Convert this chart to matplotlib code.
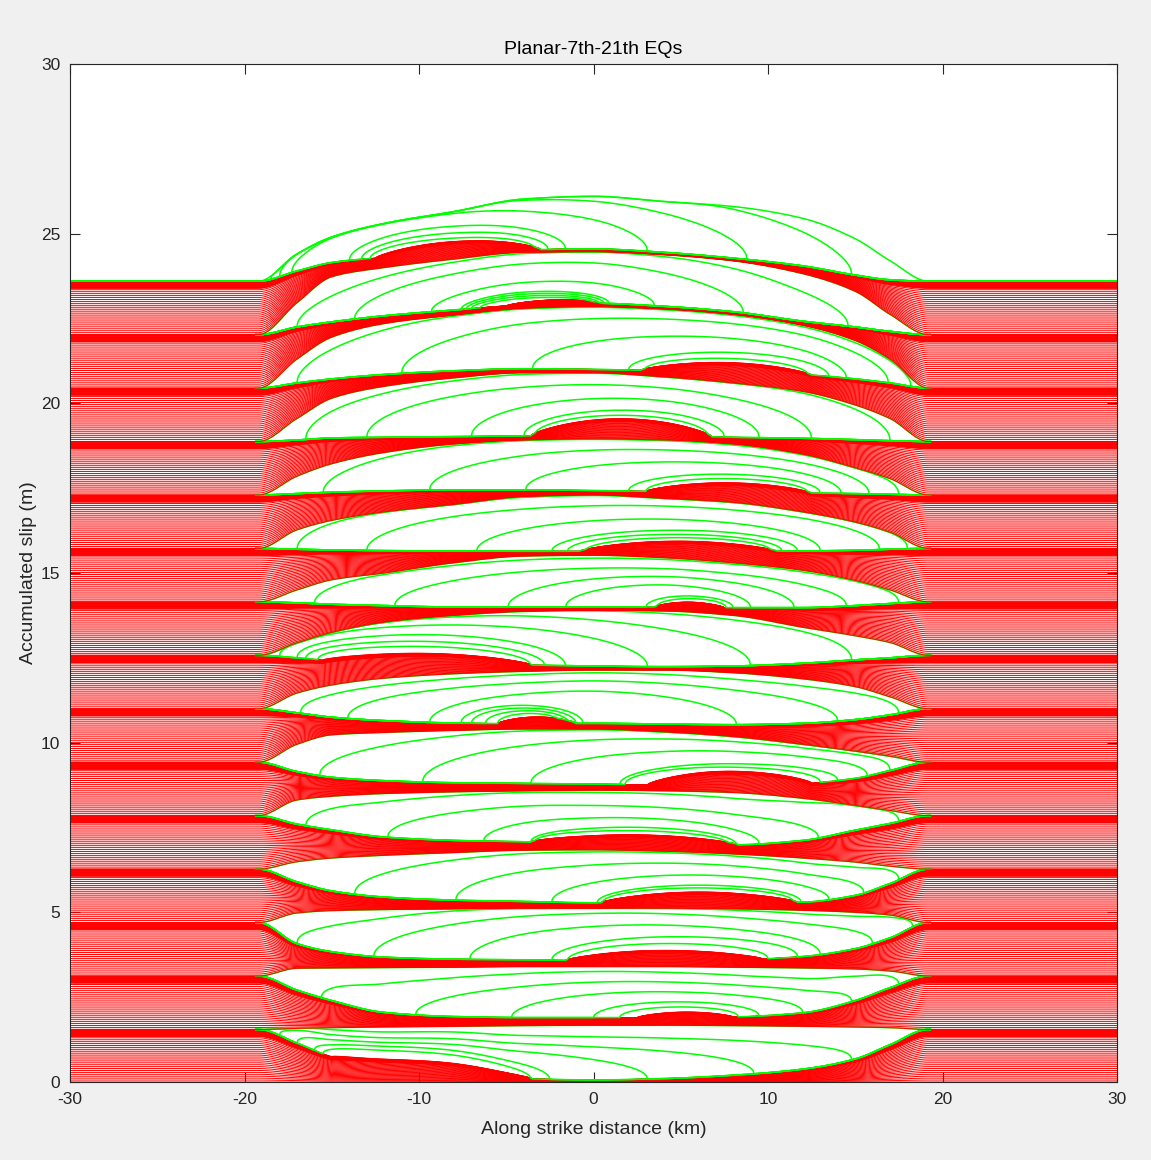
import numpy as np
import matplotlib
matplotlib.use("Agg")
import matplotlib.pyplot as plt
from matplotlib.collections import LineCollection

plt.rcParams['font.family'] = ['Liberation Sans', 'DejaVu Sans']
plt.rcParams['axes.unicode_minus'] = False

# ---------------- data ----------------
# control positions along strike (km); outer two pairs are the creeping edges / rupture tips
XC = [-30, -19.2, -17, -15, -12, -8, -4, 0, 4, 8, 12, 15, 17, 19.2, 30]

# slip level of the creeping zone at the time of each event (m), 7th..21st EQ
EDGE = [1.55, 3.125, 4.70, 6.275, 7.85, 9.425, 11.0, 12.575, 14.15, 15.725,
        17.3, 18.875, 20.45, 22.025, 23.6]

# pre-event slip profile at x = -17,-15,-12,-8,-4,0,4,8,12,15,17
PRE = [
    [1.15, 0.75, 0.45, 0.28, 0.10, 0.06, 0.10, 0.20, 0.38, 0.68, 1.10],
    [2.71, 2.40, 2.05, 1.93, 1.90, 1.90, 1.90, 1.92, 2.04, 2.40, 2.78],
    [4.08, 3.84, 3.68, 3.62, 3.60, 3.58, 3.58, 3.60, 3.70, 3.93, 4.25],
    [5.90, 5.63, 5.45, 5.36, 5.32, 5.28, 5.27, 5.27, 5.30, 5.50, 5.85],
    [7.60, 7.43, 7.22, 7.12, 7.08, 7.02, 7.00, 6.99, 7.12, 7.42, 7.62],
    [9.15, 8.98, 8.88, 8.82, 8.80, 8.78, 8.76, 8.76, 8.80, 8.95, 9.18],
    [10.88, 10.75, 10.65, 10.58, 10.56, 10.57, 10.55, 10.53, 10.57, 10.68, 10.82],
    [12.50, 12.42, 12.36, 12.32, 12.29, 12.26, 12.24, 12.26, 12.34, 12.44, 12.50],
    [14.12, 14.08, 14.04, 14.00, 14.00, 14.00, 14.00, 13.98, 13.98, 14.04, 14.10],
    [15.70, 15.68, 15.66, 15.65, 15.64, 15.64, 15.64, 15.64, 15.65, 15.67, 15.70],
    [17.34, 17.38, 17.42, 17.45, 17.45, 17.43, 17.40, 17.38, 17.36, 17.34, 17.32],
    [18.92, 18.98, 19.00, 19.02, 19.04, 19.05, 19.04, 19.00, 18.97, 18.93, 18.90],
    [20.60, 20.72, 20.85, 20.96, 21.02, 21.00, 20.96, 20.92, 20.85, 20.72, 20.60],
    [22.25, 22.40, 22.58, 22.75, 22.90, 22.95, 22.86, 22.70, 22.42, 22.25, 22.12],
    [23.90, 24.15, 24.30, 24.42, 24.52, 24.55, 24.45, 24.28, 24.05, 23.78, 23.64],
]

# post-event slip profile at the same positions
POST = [
    [1.58, 1.60, 1.62, 1.64, 1.66, 1.67, 1.67, 1.66, 1.64, 1.62, 1.60],
    [3.35, 3.36, 3.37, 3.38, 3.40, 3.40, 3.40, 3.38, 3.36, 3.33, 3.27],
    [4.98, 5.05, 5.08, 5.10, 5.12, 5.12, 5.12, 5.10, 5.06, 5.00, 4.92],
    [6.49, 6.60, 6.68, 6.76, 6.83, 6.84, 6.80, 6.72, 6.60, 6.48, 6.36],
    [8.31, 8.42, 8.50, 8.55, 8.58, 8.60, 8.58, 8.53, 8.36, 8.15, 8.00],
    [9.95, 10.23, 10.30, 10.36, 10.40, 10.40, 10.32, 10.18, 9.95, 9.75, 9.60],
    [11.46, 11.70, 11.90, 12.03, 12.10, 12.14, 12.14, 12.06, 11.88, 11.65, 11.35],
    [12.94, 13.25, 13.55, 13.75, 13.87, 13.90, 13.88, 13.75, 13.40, 13.15, 12.95],
    [14.50, 14.80, 15.00, 15.30, 15.50, 15.52, 15.45, 15.30, 15.08, 14.78, 14.50],
    [16.27, 16.55, 16.80, 17.02, 17.25, 17.30, 17.20, 17.08, 16.80, 16.50, 16.20],
    [17.85, 18.22, 18.55, 18.80, 18.92, 18.95, 18.92, 18.80, 18.50, 18.10, 17.78],
    [19.55, 20.15, 20.50, 20.75, 20.90, 20.90, 20.78, 20.60, 20.35, 19.95, 19.55],
    [21.30, 21.95, 22.35, 22.60, 22.80, 22.85, 22.78, 22.62, 22.30, 21.85, 21.30],
    [22.96, 23.73, 24.00, 24.25, 24.45, 24.47, 24.38, 24.20, 23.82, 23.30, 22.62],
    [24.40, 24.90, 25.30, 25.65, 26.02, 26.10, 25.95, 25.80, 25.45, 24.85, 24.20],
]

# nucleation patch (red bulge) for each event: start, end (km), height (m)
PATCH_START = [-15.0, 2.5, -1.6, 0.4, -3.6, 3.1, -5.5, -15.5, 3.5, -0.8, 3.0, -3.6, 2.7, -5.0, -12.5]
PATCH_END = [-3.5, 8.0, 9.7, 11.7, 8.3, 12.5, -1.0, -3.5, 7.5, 10.5, 12.5, 6.8, 12.5, 0.5, -3.0]
PATCH_H = [0.28, 0.16, 0.30, 0.33, 0.28, 0.40, 0.20, 0.30, 0.15, 0.30, 0.28, 0.50, 0.28, 0.12, 0.35]

# coseismic snapshots: left front, right front (km), slip height above the patch (m)
RUP_LEFT = [
    [-15.5, -16.0, -17.0, -18.0, -18.8],
    [1.5, 0.0, -4.7, -10.2, -15.6],
    [-1.5, -2.4, -7.1, -12.6, -17.0],
    [0.5, 0.2, -2.4, -7.9, -13.7],
    [-3.4, -3.6, -6.3, -11.8, -16.5],
    [1.8, 1.5, -3.6, -9.8, -15.7],
    [-5.5, -6.2, -7.0, -7.6, -9.4, -14.1, -16.8],
    [-15.8, -16.5, -17.0, -18.0, -18.8, -19.0],
    [3.6, 3.0, -1.6, -4.9, -11.4, -16.0],
    [-0.5, -1.5, -2.4, -6.7, -13.0, -17.0],
    [3.0, 2.0, -3.9, -9.4, -15.5],
    [-3.4, -4.0, -7.0, -13.0, -16.5],
    [2.9, 2.0, -3.5, -11.0, -17.0],
    [-6.5, -7.0, -7.3, -7.6, -9.3, -13.7, -17.0],
    [-12.8, -13.3, -14.0, -17.3, -18.0, -18.5],
]
RUP_RIGHT = [
    [-3.6, -2.5, 3.1, 9.2, 14.8],
    [8.3, 9.5, 12.0, 14.8, 17.5],
    [10.0, 11.7, 13.0, 16.0, 18.3],
    [11.5, 11.9, 13.5, 15.5, 17.5],
    [7.8, 8.2, 9.5, 12.9, 17.5],
    [13.0, 14.0, 15.7, 17.0, 18.5],
    [-1.8, -1.4, -1.0, -0.6, 8.2, 14.0, 17.5],
    [-3.6, -2.8, -1.6, 3.1, 9.0, 14.8],
    [7.6, 8.0, 9.0, 11.5, 14.5, 17.5],
    [10.2, 10.8, 11.7, 13.0, 16.4, 18.0],
    [12.3, 13.0, 14.2, 15.8, 17.5],
    [6.6, 7.5, 9.5, 12.5, 17.0],
    [12.3, 13.5, 14.5, 16.9, 18.2],
    [0.0, 0.3, 0.6, 0.9, 3.5, 8.6, 14.6],
    [-3.3, -2.6, -1.6, 3.1, 8.8, 14.8],
]
RUP_H = [
    [0.25, 0.38, 0.55, 0.75, 1.00],
    [0.15, 0.30, 0.60, 0.90, 1.20],
    [0.20, 0.40, 0.75, 1.10, 1.35],
    [0.12, 0.20, 0.50, 0.85, 1.20],
    [0.12, 0.22, 0.50, 0.85, 1.25],
    [0.12, 0.22, 0.60, 0.95, 1.25],
    [0.10, 0.18, 0.26, 0.34, 0.75, 1.05, 1.30],
    [0.20, 0.35, 0.55, 0.85, 1.15, 1.40],
    [0.10, 0.18, 0.50, 0.75, 1.00, 1.30],
    [0.10, 0.20, 0.32, 0.65, 1.05, 1.40],
    [0.12, 0.25, 0.60, 0.95, 1.30],
    [0.10, 0.25, 0.60, 1.00, 1.40],
    [0.12, 0.30, 0.75, 1.25, 1.60],
    [0.08, 0.14, 0.20, 0.26, 0.55, 1.10, 1.45],
    [0.10, 0.25, 0.45, 0.85, 1.15, 1.45],
]

X_TICKS = [-30, -20, -10, 0, 10, 20, 30]
Y_TICKS = [0, 5, 10, 15, 20, 25, 30]

# ---------------- helpers ----------------
X = np.linspace(-30, 30, 1201)


def pchip(xc, yc, x):
    xc = np.asarray(xc, float)
    yc = np.asarray(yc, float)
    h = np.diff(xc)
    d = np.diff(yc) / h
    m = np.zeros_like(yc)
    for k in range(1, len(xc) - 1):
        if d[k - 1] * d[k] > 0:
            w1 = 2 * h[k] + h[k - 1]
            w2 = h[k] + 2 * h[k - 1]
            m[k] = (w1 + w2) / (w1 / d[k - 1] + w2 / d[k])
    idx = np.clip(np.searchsorted(xc, x) - 1, 0, len(xc) - 2)
    t = (x - xc[idx]) / h[idx]
    h00 = 2 * t**3 - 3 * t**2 + 1
    h10 = t**3 - 2 * t**2 + t
    h01 = -2 * t**3 + 3 * t**2
    h11 = t**3 - t**2
    return (h00 * yc[idx] + h10 * h[idx] * m[idx] +
            h01 * yc[idx + 1] + h11 * h[idx] * m[idx + 1])


def profile(inner, edge):
    return pchip(XC, [edge, edge] + list(inner) + [edge, edge], X)


def bump(s, e, hgt):
    t = np.clip((X - s) / (e - s), 0, 1)
    return hgt * np.sin(np.pi * t) ** 0.7


def smin(a, b, k=0.05):
    return -k * np.logaddexp(-a / k, -b / k)


# sampling of the interseismic snapshots (fraction of the cycle)
F_RED = np.concatenate([np.linspace(0.0, 0.84, 24), np.linspace(0.865, 1.0, 18)])

RED = '#ff0000'
GREEN = '#00ff00'

# ---------------- figure ----------------
fig = plt.figure(figsize=(11.51, 11.60), dpi=100, facecolor='#f0f0f0')
ax = fig.add_axes([70 / 1151, 78 / 1160, 1047 / 1151, 1018 / 1160])
ax.set_facecolor('white')

q_prev = np.zeros_like(X)
z = 2
n_ev = len(EDGE)
inside = np.abs(X) < 19.2
for k in range(n_ev):
    base = np.maximum(profile(PRE[k], EDGE[k]), q_prev + 0.05 * inside)
    pre = base + bump(PATCH_START[k], PATCH_END[k], PATCH_H[k])
    post = np.maximum(profile(POST[k], EDGE[k]), pre)

    # interseismic (red) snapshots
    segs = [np.column_stack([X, q_prev + f * (pre - q_prev)]) for f in F_RED]
    ax.add_collection(LineCollection(segs, colors=RED, linewidths=0.7, zorder=z))
    z += 1

    # coseismic (green) snapshots
    lines = []
    for a, b, hh in zip(RUP_LEFT[k], RUP_RIGHT[k], RUP_H[k]):
        c = 0.5 * (a + b)
        r = 0.5 * (b - a)
        ell = np.sqrt(np.clip(1 - ((X - c) / r) ** 2, 0, None))
        g = base + (hh + PATCH_H[k]) * ell
        g = np.maximum(pre, smin(post, g))
        lines.append(g)
    lines.append(post)
    out = []
    for g in lines:
        if k < n_ev - 1:
            g = np.where(np.abs(X) <= 19.4, g, np.nan)
        out.append(np.column_stack([X, g]))
    ax.add_collection(LineCollection(out, colors=GREEN, linewidths=1.1, zorder=z))
    z += 1
    q_prev = post

ax.set_xlim(-30, 30)
ax.set_ylim(0, 30)
ax.set_xticks(X_TICKS)
ax.set_yticks(Y_TICKS)
axcol = '#262626'
for s in ax.spines.values():
    s.set_color(axcol)
    s.set_linewidth(0.8)
    s.set_zorder(100)
ax.tick_params(direction='in', length=7, width=0.8, colors=axcol, labelsize=12.5,
               top=True, right=True, pad=7)
ax.set_xlabel('Along strike distance (km)', fontsize=14, color=axcol, labelpad=10)
ax.set_ylabel('Accumulated slip (m)', fontsize=14, color=axcol, labelpad=3)
ax.set_title('Planar-7th-21th EQs', fontsize=14, color='black', pad=7)

fig.savefig('out.png', dpi=100, facecolor=fig.get_facecolor())
